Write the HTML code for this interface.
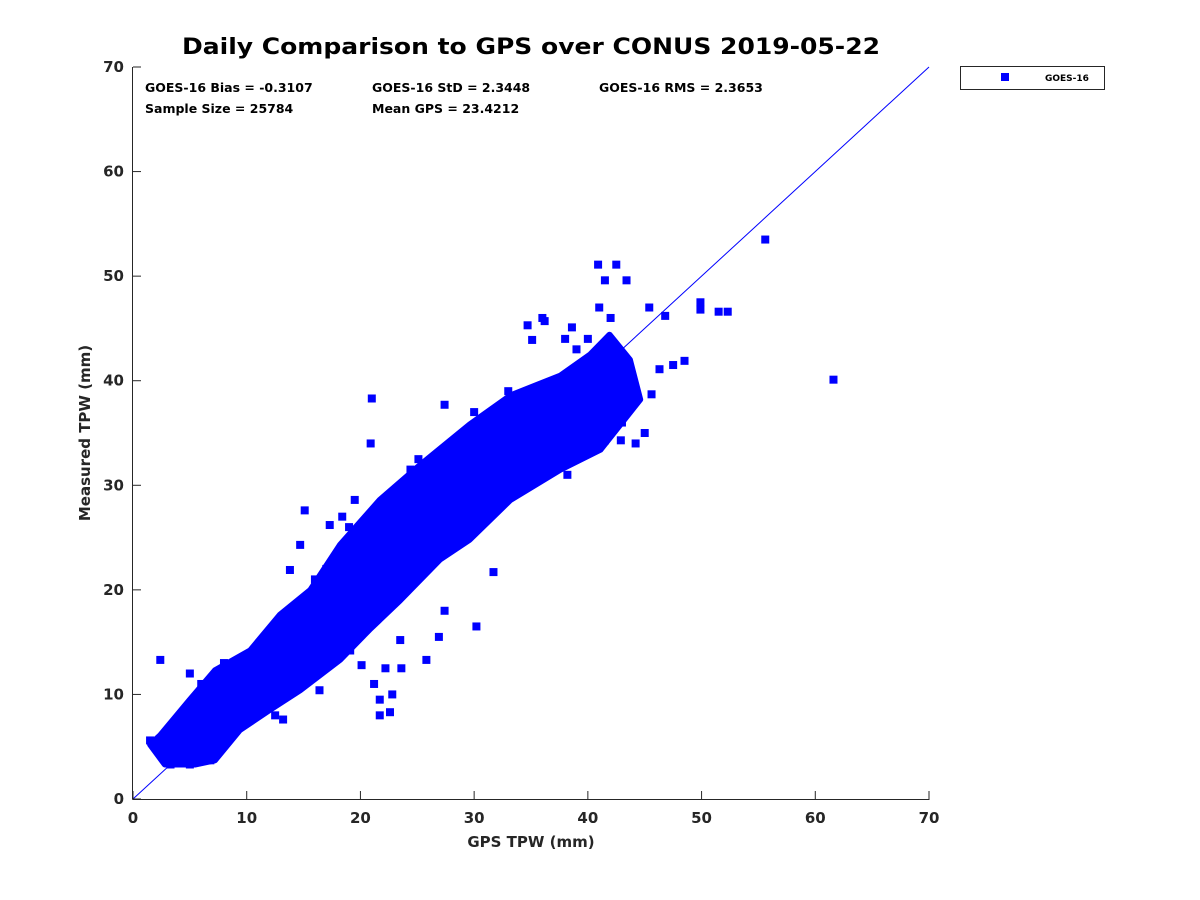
<!DOCTYPE html>
<html><head><meta charset="utf-8"><style>
html,body{margin:0;padding:0;background:#fff;}
svg{display:block;font-family:"DejaVu Sans","Liberation Sans",sans-serif;}
</style></head><body>
<svg id="chart" width="1200" height="900" viewBox="0 0 1200 900">
<rect width="1200" height="900" fill="#fff"/>
<text x="531" y="54" font-size="22" font-weight="bold" text-anchor="middle" fill="#000" textLength="698" lengthAdjust="spacingAndGlyphs">Daily Comparison to GPS over CONUS 2019-05-22</text>
<g id="marks"></g>
<g id="axes"></g>
<g font-size="12.5" font-weight="bold" fill="#000">
<text x="145" y="92">GOES-16 Bias = -0.3107</text>
<text x="372" y="92">GOES-16 StD = 2.3448</text>
<text x="599" y="92">GOES-16 RMS = 2.3653</text>
<text x="145" y="113">Sample Size = 25784</text>
<text x="372" y="113">Mean GPS = 23.4212</text>
</g>
<text x="531" y="847" font-size="15" font-weight="bold" text-anchor="middle" fill="#262626">GPS TPW (mm)</text>
<text transform="translate(90,433) rotate(-90)" font-size="15" font-weight="bold" text-anchor="middle" fill="#262626">Measured TPW (mm)</text>
<g>
<rect x="960.5" y="66.5" width="144" height="23" fill="#fff" stroke="#262626" stroke-width="1"/>
<rect x="1001" y="73" width="8" height="8" fill="#0000ff"/>
<text x="1045" y="81" font-size="9" font-weight="bold" fill="#000">GOES-16</text>
</g>
</svg>
<script>
const xTicks=[0,10,20,30,40,50,60,70];
const yTicks=[0,10,20,30,40,50,60,70];
// dense core envelope of the scatter (data coords: GPS, measured)
const coreGps=[2.4,5,7.2,10.3,12.9,15.6,18.2,21.7,25.2,29.6,33.2,37.6,40.2,41.9,43.7,44.6,41.1,37.6,33.2,29.6,27,23.5,20.8,18.2,14.7,12,9.4,7.2,5.5,2.8,1.5];
const coreMeas=[6.1,9.5,12.3,14.2,17.6,20,24.3,28.6,31.9,35.8,38.6,40.5,42.5,44.4,42,38.2,33.4,31.5,28.6,24.8,22.9,19,16.2,13.3,10.4,8.5,6.6,3.7,3.3,3.3,5.2];
// individual scattered points
const ptGps=[55.6,61.6,30.2,31.7,26.9,25.8,21,27.4,20.9,49.9,49.9,52.3,51.5,48.5,47.5,46.3,45.6,46.8,45.4,40.9,42.5,43.4,41.5,34.7,36.2,38.6,35.1,21.7,22.6,21.7,20.1,19.1,22.2,23.5,27.4,15.1,14.7,13.8,12,2.4,1.5,3.3,5,6.8,9.8,12.5,13.2,16.4,37.1,38.2,41.5,42.9,41.9,18.4,17.3,19.5,24.4,25.1,5,6,4,3,8,10,11,7,22,23,24,20,21,40,41,42,43,39,38,36,33,30,28,26,17,16,14,19,21.2,22.8,23.6,44.2,45,43];
const ptMeas=[53.5,40.1,16.5,21.7,15.5,13.3,38.3,37.7,34,46.8,47.5,46.6,46.6,41.9,41.5,41.1,38.7,46.2,47,51.1,51.1,49.6,49.6,45.3,45.7,45.1,43.9,9.5,8.3,8,12.8,14.2,12.5,15.2,18,27.6,24.3,21.9,15.2,13.3,5.6,3.3,3.3,3.7,8.3,8,7.6,10.4,32.9,31,34.3,34.3,35.8,27,26.2,28.6,31.5,32.5,12,11,6,5,13,12,9,10,24,26,27,22,25,44,47,46,36,43,44,46,39,37,33,29,22,21,18,26,11,10,12.5,34,35,37];
const X=v=>133+v*(929-133)/70;
const Y=v=>799-v*(799-67)/70;
const NS="http://www.w3.org/2000/svg";
const marks=document.getElementById('marks');
const axes=document.getElementById('axes');
let d='';
coreGps.forEach((g,i)=>{d+=(i?'L':'M')+X(g).toFixed(1)+','+Y(coreMeas[i]).toFixed(1);});
const poly=document.createElementNS(NS,'path');
poly.setAttribute('d',d+'Z');
poly.setAttribute('fill','#0000ff');
poly.setAttribute('stroke','#0000ff');
poly.setAttribute('stroke-width','6');
poly.setAttribute('stroke-linejoin','round');


marks.appendChild(poly);
ptGps.forEach((g,i)=>{
  const r=document.createElementNS(NS,'rect');
  r.setAttribute('x',X(g)-4);r.setAttribute('y',Y(ptMeas[i])-4);
  r.setAttribute('width',8);r.setAttribute('height',8);r.setAttribute('fill','#0000ff');
  
  
  marks.appendChild(r);
});
const ln=document.createElementNS(NS,'line');
ln.setAttribute('x1',X(0));ln.setAttribute('y1',Y(0));ln.setAttribute('x2',X(70));ln.setAttribute('y2',Y(70));
ln.setAttribute('stroke','#0000ff');ln.setAttribute('stroke-width','1');


marks.appendChild(ln);
function line(x1,y1,x2,y2,name){const l=document.createElementNS(NS,'line');l.setAttribute('x1',x1);l.setAttribute('y1',y1);l.setAttribute('x2',x2);l.setAttribute('y2',y2);l.setAttribute('stroke','#262626');l.setAttribute('stroke-width','1');


axes.appendChild(l);}
function txt(x,y,s,anchor,name){const t=document.createElementNS(NS,'text');t.setAttribute('x',x);t.setAttribute('y',y);t.setAttribute('text-anchor',anchor);t.setAttribute('font-size','15');t.setAttribute('font-weight','bold');t.setAttribute('fill','#262626');t.textContent=s;


axes.appendChild(t);}
line(132.5,Y(0)+0.5,929.5,Y(0)+0.5,'x-axis-line');
line(X(0)-0.5,67,X(0)-0.5,799.5,'y-axis-line');
xTicks.forEach(v=>{line(X(v),799,X(v),791,'x-tick');txt(X(v),823,String(v),'middle','x-tick-label');});
yTicks.forEach(v=>{line(133,Y(v),141,Y(v),'y-tick');txt(124,Y(v)+5,String(v),'end','y-tick-label');});
</script>
</body></html>
